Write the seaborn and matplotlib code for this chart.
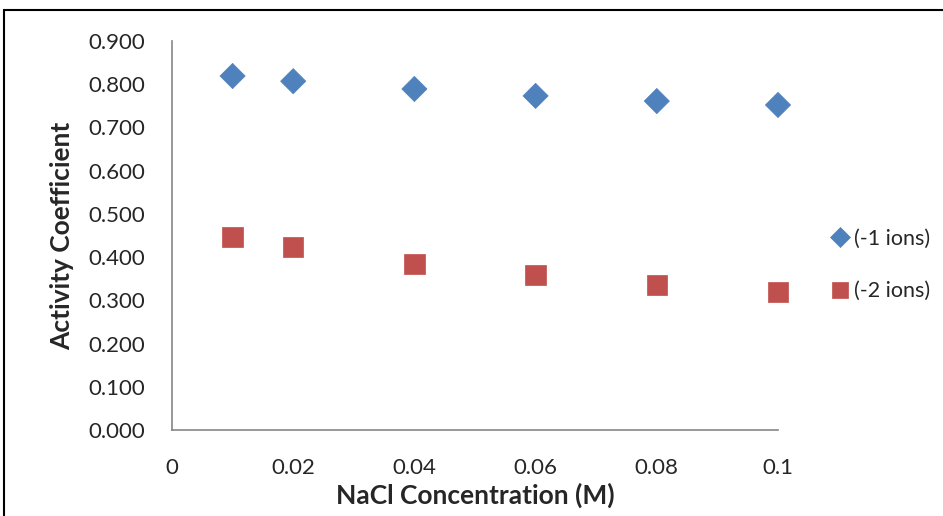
import matplotlib
matplotlib.use("Agg")
import matplotlib.pyplot as plt
import seaborn as sns
import pandas as pd
from matplotlib.patches import Rectangle

conc = [0.01, 0.02, 0.04, 0.06, 0.08, 0.1]
ion1 = [0.819, 0.807, 0.789, 0.773, 0.761, 0.752]
ion2 = [0.447, 0.423, 0.384, 0.359, 0.335, 0.319]
series = ["(-1 ions)", "(-2 ions)"]
xticks = [0, 0.02, 0.04, 0.06, 0.08, 0.1]
xticklabels = ["0", "0.02", "0.04", "0.06", "0.08", "0.1"]
yticks = [0.0, 0.1, 0.2, 0.3, 0.4, 0.5, 0.6, 0.7, 0.8, 0.9]

df = pd.DataFrame({
    "x": conc + conc,
    "y": ion1 + ion2,
    "series": [series[0]] * len(conc) + [series[1]] * len(conc),
})

sns.set_style("white")
plt.rcParams['font.family'] = ['Lato', 'DejaVu Sans']

fig = plt.figure(figsize=(9.43, 5.16), dpi=100)
ax = fig.add_axes([172/943, 1-430/516, (778-172)/943, (430-41)/516])

sns.scatterplot(data=df, x="x", y="y", hue="series", style="series", size="series",
                markers={series[0]: "D", series[1]: "s"},
                palette={series[0]: "#4F81BD", series[1]: "#C0504D"},
                sizes={series[0]: 165, series[1]: 215},
                linewidth=0.5, edgecolor="face", ax=ax, legend=True)
for coll in ax.collections:
    coll.set_clip_on(False)

ax.set_xlim(0, 0.1)
ax.set_ylim(0, 0.9)
ax.set_xticks(xticks)
ax.set_xticklabels(xticklabels)
ax.set_yticks(yticks)
ax.set_yticklabels([f"{v:.3f}" for v in yticks])
ax.tick_params(axis="both", labelsize=16, length=5, width=1.2, color="#868686",
               direction="out")
ax.tick_params(axis="y", pad=14)
ax.tick_params(axis="x", pad=15)
for side in ["top", "right"]:
    ax.spines[side].set_visible(False)
for side in ["left", "bottom"]:
    ax.spines[side].set_color("#868686")
    ax.spines[side].set_linewidth(1.2)

ax.set_xlabel("NaCl Concentration (M)", fontsize=19, fontweight="bold", va="center")
ax.set_ylabel("Activity Coefficient", fontsize=19, fontweight="bold", va="center")
ax.xaxis.set_label_coords(0.5, (430-495)/389)
ax.yaxis.set_label_coords((62-172)/606, 0.5)

handles, labels = ax.get_legend_handles_labels()
ax.legend(handles, labels, loc="center left", bbox_to_anchor=(810/943, 1-265/516),
          bbox_transform=fig.transFigure, frameon=False, fontsize=15.5,
          markerscale=0.78, handletextpad=0.15, labelspacing=1.5, handlelength=1.0)

fig.patches.append(Rectangle((4/943, -0.1), 1.2, 1-10/516+0.1, transform=fig.transFigure,
                             fill=False, edgecolor="black", linewidth=1.5, clip_on=False))

fig.savefig("out.png", dpi=100)
